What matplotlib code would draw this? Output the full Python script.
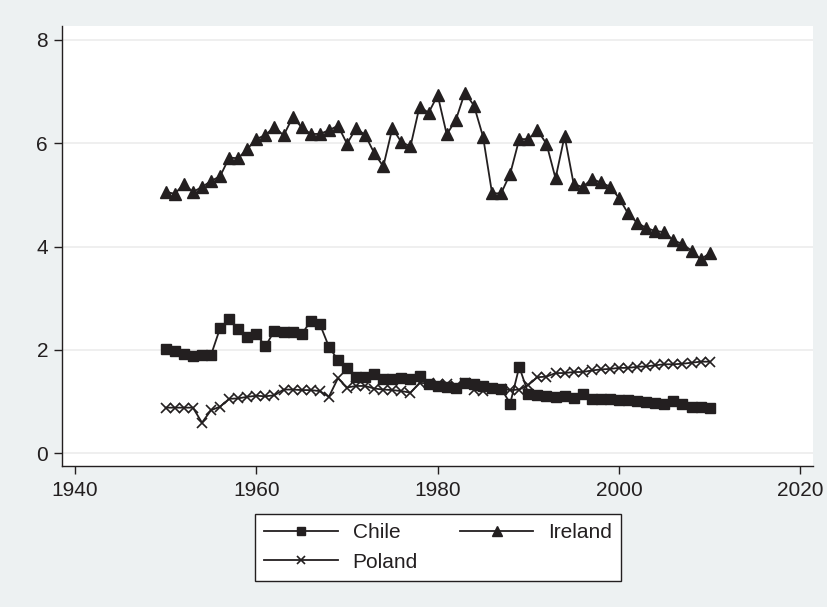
import matplotlib
matplotlib.use("Agg")
import matplotlib.pyplot as plt

years = list(range(1950, 2011))

chile = [2.02, 1.98, 1.91, 1.88, 1.90, 1.90, 2.42, 2.59, 2.40, 2.25,
         2.30, 2.07, 2.37, 2.35, 2.34, 2.30, 2.56, 2.50, 2.06, 1.80,
         1.65, 1.47, 1.48, 1.53, 1.44, 1.43, 1.45, 1.43, 1.49, 1.33,
         1.30, 1.28, 1.27, 1.35, 1.33, 1.30, 1.27, 1.25, 0.96, 1.67,
         1.15, 1.13, 1.10, 1.08, 1.10, 1.07, 1.14, 1.05, 1.05, 1.05,
         1.03, 1.02, 1.00, 0.98, 0.97, 0.95, 1.01, 0.95, 0.90, 0.90,
         0.87]

ireland = [5.06, 5.02, 5.21, 5.06, 5.15, 5.27, 5.36, 5.72, 5.71, 5.89,
           6.08, 6.16, 6.32, 6.15, 6.50, 6.31, 6.18, 6.18, 6.25, 6.34,
           5.99, 6.29, 6.16, 5.81, 5.55, 6.29, 6.02, 5.94, 6.71, 6.59,
           6.93, 6.17, 6.45, 6.98, 6.73, 6.13, 5.03, 5.03, 5.41, 6.08,
           6.08, 6.25, 5.99, 5.32, 6.14, 5.21, 5.15, 5.31, 5.24, 5.16,
           4.94, 4.64, 4.46, 4.36, 4.30, 4.28, 4.12, 4.05, 3.92, 3.75,
           3.87]

poland = [0.88, 0.88, 0.88, 0.88, 0.59, 0.83, 0.90, 1.05, 1.06, 1.09,
          1.11, 1.10, 1.12, 1.23, 1.23, 1.22, 1.22, 1.20, 1.09, 1.45,
          1.27, 1.30, 1.30, 1.25, 1.23, 1.22, 1.20, 1.17, 1.36, 1.35,
          1.33, 1.33, 1.30, 1.35, 1.22, 1.20, 1.25, 1.25, 1.22, 1.23,
          1.32, 1.47, 1.48, 1.55, 1.55, 1.57, 1.57, 1.60, 1.62, 1.63,
          1.65, 1.65, 1.67, 1.68, 1.70, 1.72, 1.72, 1.73, 1.75, 1.77,
          1.77]

xticks = [1940, 1960, 1980, 2000, 2020]
yticks = [0, 2, 4, 6, 8]

plt.rcParams['font.family'] = ['Liberation Sans', 'DejaVu Sans']

bg = '#EDF1F2'
ink = '#231f20'

fig = plt.figure(figsize=(8.28, 6.07), dpi=100, facecolor=bg)
ax = fig.add_axes([62/828, 1-466/607, (813-62)/828, (466-26)/607])
ax.set_facecolor('white')

lw = 1.3
l1, = ax.plot(years, chile, color=ink, lw=lw, marker='s', ms=7.5, label='Chile')
l2, = ax.plot(years, ireland, color=ink, lw=lw, marker='^', ms=8.5, label='Ireland')
l3, = ax.plot(years, poland, color=ink, lw=lw, marker='x', ms=7, mew=1.2, label='Poland')

ax.set_xlim(1938.56, 2021.4)
ax.set_ylim(-0.25, 8.27)
ax.set_xticks(xticks)
ax.set_yticks(yticks)
ax.grid(axis='y', color='#ECECEC', lw=1.2)
ax.set_axisbelow(True)
for s in ['top', 'right']:
    ax.spines[s].set_visible(False)
for s in ['left', 'bottom']:
    ax.spines[s].set_color(ink)
    ax.spines[s].set_linewidth(1.0)
ax.tick_params(axis='both', direction='out', length=6, width=1.0, color=ink,
               labelsize=15, labelcolor=ink)
ax.tick_params(axis='y', pad=4)
ax.tick_params(axis='x', pad=5)

handles = [l1, l3, l2]
labels = ['Chile', 'Poland', 'Ireland']
leg = fig.legend(handles, labels, loc='center', bbox_to_anchor=(438/828, 1-547.5/607),
                 ncol=2, fontsize=15, frameon=True, fancybox=False,
                 edgecolor=ink, facecolor='white', framealpha=1,
                 handlelength=3.55, handletextpad=0.7, columnspacing=2.0,
                 labelspacing=0.48, borderpad=0.45, markerscale=0.8)
leg.get_frame().set_linewidth(1.0)
for t in leg.get_texts():
    t.set_color(ink)

fig.savefig('out.png', dpi=100, facecolor=bg)
